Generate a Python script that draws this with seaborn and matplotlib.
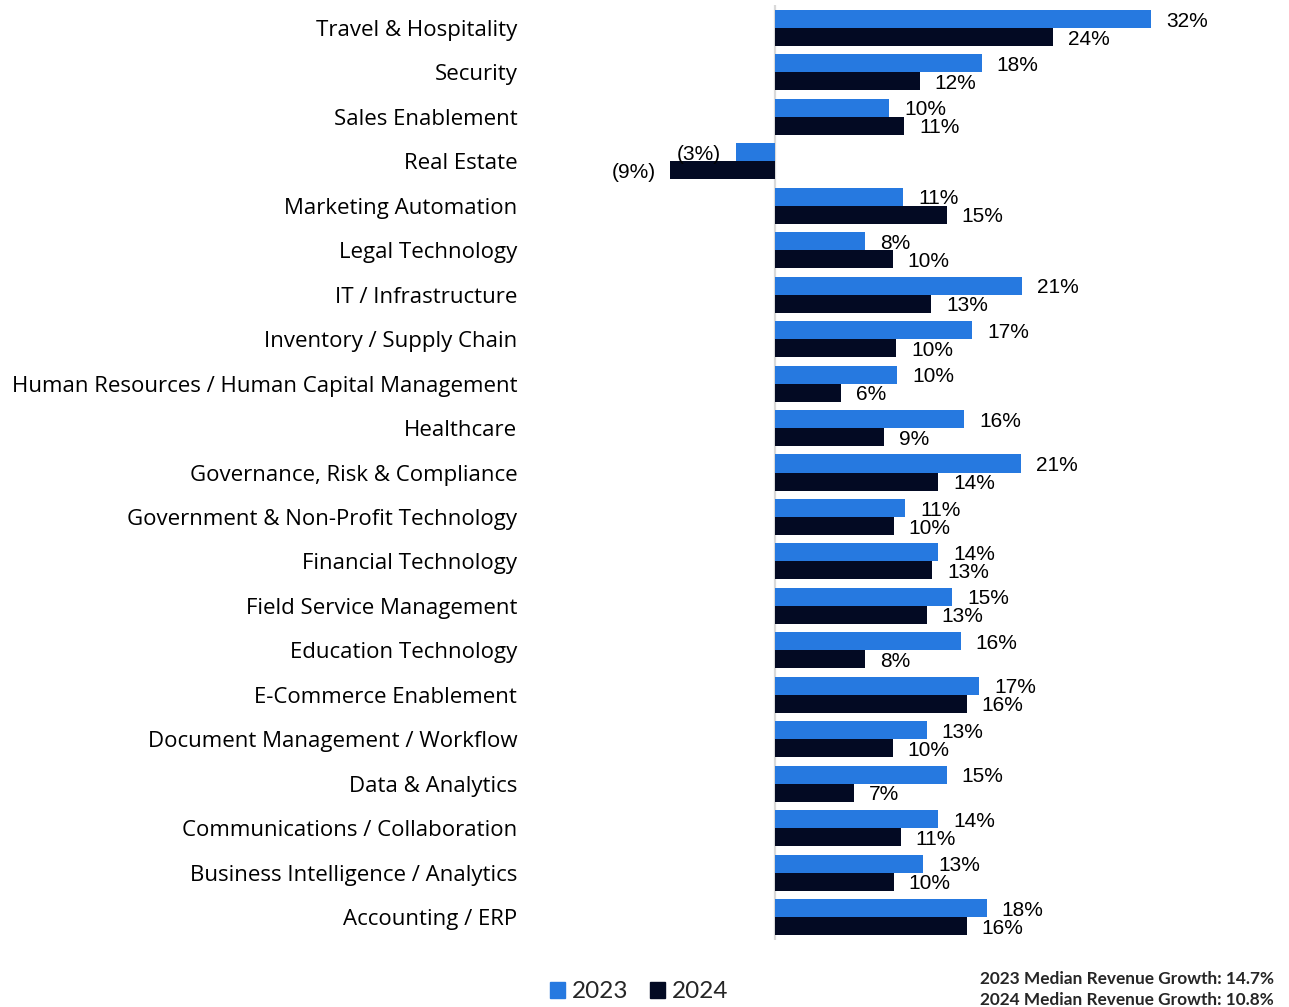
import matplotlib
matplotlib.use('Agg')
import matplotlib.pyplot as plt
import seaborn as sns
import pandas as pd
from matplotlib.patches import Patch

categories = [
    'Travel & Hospitality', 'Security', 'Sales Enablement', 'Real Estate',
    'Marketing Automation', 'Legal Technology', 'IT / Infrastructure',
    'Inventory / Supply Chain', 'Human Resources / Human Capital Management',
    'Healthcare', 'Governance, Risk & Compliance',
    'Government & Non-Profit Technology', 'Financial Technology',
    'Field Service Management', 'Education Technology', 'E-Commerce Enablement',
    'Document Management / Workflow', 'Data & Analytics',
    'Communications / Collaboration', 'Business Intelligence / Analytics',
    'Accounting / ERP',
]
growth_2023 = [32.0, 17.6, 9.7, -3.3, 10.9, 7.7, 21.0, 16.8, 10.4, 16.1, 20.9,
               11.1, 13.9, 15.1, 15.8, 17.4, 12.9, 14.6, 13.9, 12.6, 18.0]
growth_2024 = [23.7, 12.3, 11.0, -8.9, 14.6, 10.0, 13.3, 10.3, 5.6, 9.3, 13.9,
               10.1, 13.4, 12.9, 7.7, 16.3, 10.0, 6.7, 10.7, 10.1, 16.3]
years = ['2023', '2024']
colors = ['#2679E0', '#030A23']
median_notes = ['2023 Median Revenue Growth: 14.7%',
                '2024 Median Revenue Growth: 10.8%']

sns.set_theme(style='white')
plt.rcParams['font.family'] = ['Open Sans', 'DejaVu Sans']

df = pd.DataFrame({
    'Category': categories * 2,
    'Growth': growth_2023 + growth_2024,
    'Year': [years[0]] * len(categories) + [years[1]] * len(categories),
})

W, H = 1289, 1007
fig = plt.figure(figsize=(W / 100, H / 100), dpi=100)
ax = fig.add_axes([527 / W, 1 - 940 / H, (1250 - 527) / W, 935 / H])

sns.barplot(data=df, y='Category', x='Growth', hue='Year', palette=colors,
            orient='h', width=0.81, saturation=1, legend=False, ax=ax,
            linewidth=0, errorbar=None)

def fmt(v):
    r = round(abs(v))
    return f'({r}%)' if v < 0 else f'{r}%'

for cont, vals in zip(ax.containers, [growth_2023, growth_2024]):
    for patch, v in zip(cont.patches, vals):
        yc = patch.get_y() + patch.get_height() / 2
        off = 10.8 if v >= 0 else -10.8
        ax.annotate(fmt(v), xy=(v, yc), xytext=(off, -1.5),
                    textcoords='offset points', ha='left' if v >= 0 else 'right',
                    va='center', fontsize=15, family=['Liberation Sans'],
                    color='#000000')

ax.axvline(0, color='#D9D9D9', lw=1.6, zorder=0)
ax.set_xlim(-(775 - 527) / 11.75, (1250 - 775) / 11.75)
ax.set_ylim(len(categories) - 1 + 0.517, -0.517)
for s in ax.spines.values():
    s.set_visible(False)
ax.set_xticks([])
ax.set_xlabel('')
ax.set_ylabel('')
ax.tick_params(axis='y', length=0, pad=7, labelsize=16, labelcolor='#000000')

handles = [Patch(color=c, label=y) for c, y in zip(colors, years)]
fig.legend(handles=handles, loc='center', bbox_to_anchor=(0.496, 0.015),
           ncol=2, frameon=False, handlelength=0.6, handleheight=0.6,
           handletextpad=0.3, columnspacing=0.9,
           prop={'family': ['Lato'], 'size': 17.5})

fig.text(980 / W, 1 - 979 / H, median_notes[0], fontsize=12.4, fontweight='bold',
         va='center', ha='left', family=['Lato'])
fig.text(980 / W, 1 - 1000 / H, median_notes[1], fontsize=12.4, fontweight='bold',
         va='center', ha='left', family=['Lato'])

fig.savefig('out.png', dpi=100)
